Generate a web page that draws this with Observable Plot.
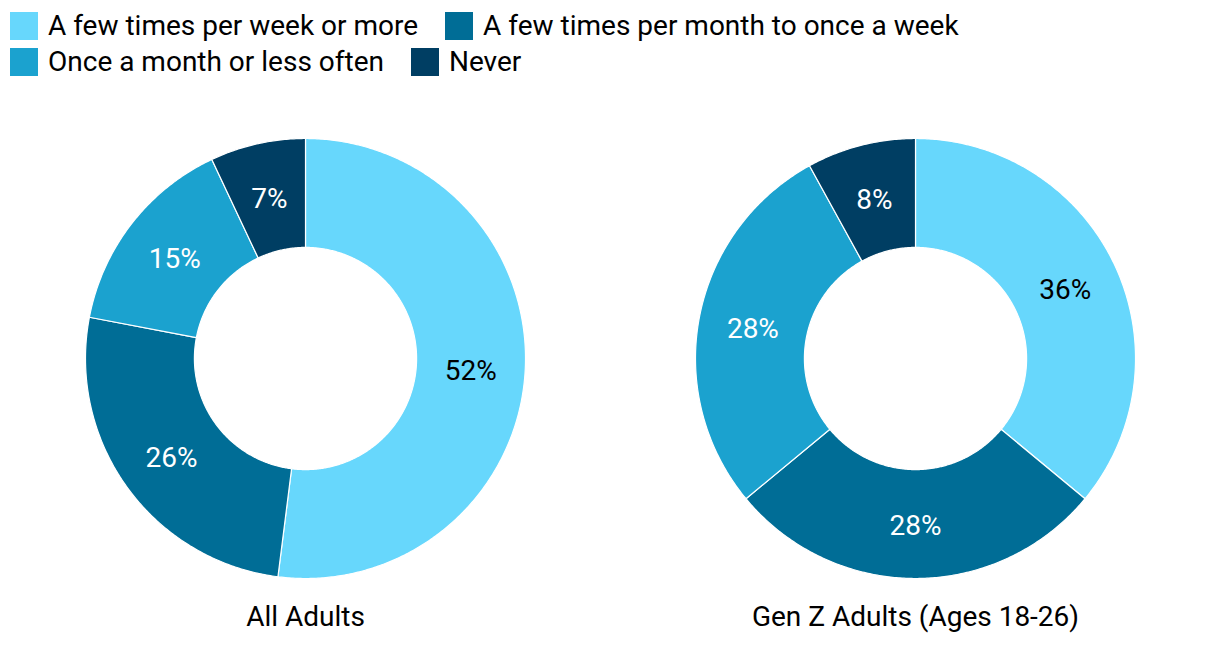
<!DOCTYPE html>
<html><head><meta charset="utf-8">
<script src="https://cdn.jsdelivr.net/npm/d3@7"></script>
<script src="https://cdn.jsdelivr.net/npm/@observablehq/plot@0.6"></script>
<style>
body{margin:0;background:#fff;font-family:Roboto,sans-serif;color:#000;}
#legend{display:flex;flex-wrap:wrap;align-content:flex-start;column-gap:27px;row-gap:8px;padding:12px 0 0 10px;height:90px;box-sizing:border-box;font-size:28px;line-height:28px;width:1220px;}
.item{display:flex;align-items:center;gap:10px;height:28px;}
.sw{width:28px;height:28px;flex:none;}
</style></head><body>
<div id="legend"></div><div id="chart"></div>
<script>
const groups = ["All Adults", "Gen Z Adults (Ages 18-26)"];
const categories = ["A few times per week or more", "A few times per month to once a week", "Once a month or less often", "Never"];
const colors = ["#67d7fc", "#006d96", "#1ba2cf", "#003e63"];
const allAdults = [52, 26, 15, 7];
const genZ = [36, 28, 28, 8];
const labelColors = ["black", "white", "white", "white"];

// legend
const leg = document.getElementById("legend");
categories.forEach((c, i) => {
  const it = document.createElement("div"); it.className = "item";
  const sw = document.createElement("div"); sw.className = "sw"; sw.style.background = colors[i];
  const t = document.createElement("span"); t.textContent = c;
  it.append(sw, t); leg.append(it);
});

// geometry (layout)
const W = 1220, H = 572, R = 220, cy = 268, inner = 0.505;
const half = (W / 2) / 2 / R;

const seriesByGroup = [allAdults, genZ];
const polys = [], labels = [];
groups.forEach((g, gi) => {
  const vals = seriesByGroup[gi];
  const total = d3.sum(vals);
  let acc = 0;
  vals.forEach((v, ci) => {
    const a0 = acc / total * 2 * Math.PI, a1 = (acc + v) / total * 2 * Math.PI;
    acc += v;
    const key = g + "|" + ci;
    const n = Math.max(2, Math.ceil((a1 - a0) / (Math.PI / 360)));
    for (let k = 0; k <= n; k++) {
      const a = a0 + (a1 - a0) * k / n;
      polys.push({group: g, category: categories[ci], key, x: Math.sin(a), y: Math.cos(a)});
    }
    for (let k = n; k >= 0; k--) {
      const a = a0 + (a1 - a0) * k / n;
      polys.push({group: g, category: categories[ci], key, x: inner * Math.sin(a), y: inner * Math.cos(a)});
    }
    const am = (a0 + a1) / 2, rm = (1 + inner) / 2;
    labels.push({group: g, text: v + "%", x: rm * Math.sin(am), y: rm * Math.cos(am), color: labelColors[ci]});
  });
});

const chart = Plot.plot({
  width: W, height: H,
  marginTop: 0, marginBottom: 0, marginLeft: 0, marginRight: 0,
  style: {fontFamily: "Roboto, sans-serif", fontSize: "28px", background: "white"},
  fx: {domain: groups, padding: 0, axis: null},
  x: {domain: [-half, half], axis: null},
  y: {domain: [-(H - cy) / R, cy / R], axis: null},
  color: {domain: categories, range: colors},
  marks: [
    Plot.line(polys, {x: "x", y: "y", z: "key", fx: "group", fill: "category", stroke: "white", strokeWidth: 1.2, curve: "linear-closed"}),
    Plot.text(labels.filter(d => d.color === "black"), {x: "x", y: "y", fx: "group", text: "text", fill: "black", fontSize: 28, dy: 2}),
    Plot.text(labels.filter(d => d.color === "white"), {x: "x", y: "y", fx: "group", text: "text", fill: "white", fontSize: 28, dy: 2}),
    Plot.text(groups, {fx: d => d, text: d => d, frameAnchor: "bottom", dy: -45, lineAnchor: "middle", fill: "black", fontSize: 28})
  ]
});
document.getElementById("chart").append(chart);
</script>
</body></html>
